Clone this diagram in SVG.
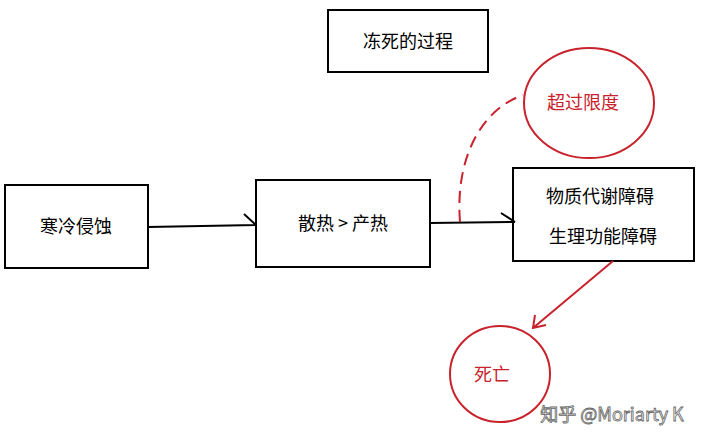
<svg xmlns="http://www.w3.org/2000/svg" width="720" height="448" viewBox="0 0 720 448">
<style>
.box{fill:#fff;stroke:#000;stroke-width:2}
.cir{fill:none;stroke:#c8232c;stroke-width:2}
.t{font-family:"Noto Sans CJK SC","Noto Sans",sans-serif;font-size:18px;fill:#000;text-anchor:middle}
.r{fill:#c8232c}
.ln{fill:none;stroke:#000;stroke-width:2}
.rl{fill:none;stroke:#c8232c;stroke-width:2}
</style>
<rect width="720" height="448" fill="#fff"/>
<g id="title"><rect class="box" x="328" y="10" width="160" height="62"/><text class="t" x="408" y="48">冻死的过程</text></g>
<g id="n1"><rect class="box" x="5" y="185" width="143" height="83"/><text class="t" x="76" y="233">寒冷侵蚀</text></g>
<g id="n2"><rect class="box" x="256" y="180" width="174" height="87"/><text class="t" x="343" y="230">散热 &gt; 产热</text></g>
<g id="n3"><rect class="box" x="513" y="168" width="181" height="93"/><text class="t" x="600" y="203">物质代谢障碍</text><text class="t" x="603" y="243">生理功能障碍</text></g>
<g id="c1"><ellipse class="cir" cx="589" cy="103" rx="65" ry="55"/><text class="t r" x="583" y="109">超过限度</text></g>
<g id="c2"><ellipse class="cir" cx="500" cy="374" rx="50" ry="48"/><text class="t r" x="492" y="381">死亡</text></g>
<g id="connectors">
<path class="ln" d="M148 227 L256 225 M244 214 L256 225"/>
<path class="ln" d="M430 223 L515 222 M501 213 L515 222"/>
<path class="rl" stroke-dasharray="12,7" d="M460 222 C455 160 480 110 523 95"/>
<path class="rl" d="M613 261 L533 328 M535 315 L533 328 L546 325"/>
</g>
<text x="612" y="421" style="font-family:'Noto Sans CJK SC','Noto Sans',sans-serif;font-size:18px;fill:#fff;stroke:#666;stroke-width:0.8;text-anchor:middle">知乎 @Moriarty K</text>
</svg>
